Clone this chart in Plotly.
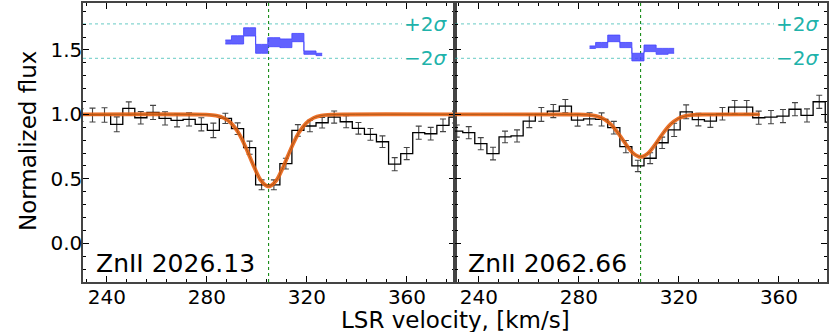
import plotly.graph_objects as go
from plotly.subplots import make_subplots

# ----------------------------------------------------------
# Data (velocity in km/s, normalised flux)
# ----------------------------------------------------------

vel_2026 = [229.5, 234.3, 239.1, 244.0, 248.8, 253.6, 258.5, 263.3, 268.1, 272.9,
            277.8, 282.6, 287.4, 292.3, 297.1, 301.9, 306.8, 311.6, 316.4, 321.2,
            326.1, 330.9, 335.7, 340.6, 345.4, 350.2, 355.1, 359.9, 364.7, 369.5,
            374.4, 379.2]
flux_2026 = [0.995, 0.995, 0.995, 0.923, 1.046, 0.974, 1.015, 0.969, 0.954, 0.961,
             0.923, 0.876, 0.969, 0.889, 0.742, 0.454, 0.454, 0.618, 0.876, 0.910,
             0.935, 0.979, 0.943, 0.892, 0.845, 0.788, 0.614, 0.696, 0.858, 0.850,
             0.915, 0.979]
err_2026 = [0.050, 0.054, 0.056, 0.058, 0.051, 0.049, 0.055, 0.051, 0.051, 0.051,
            0.051, 0.056, 0.040, 0.045, 0.051, 0.038, 0.038, 0.042, 0.045, 0.045,
            0.041, 0.047, 0.047, 0.045, 0.046, 0.045, 0.051, 0.047, 0.051, 0.049,
            0.049, 0.046]

vel_2062 = [226.3, 231.2, 236.0, 240.8, 245.7, 250.5, 255.3, 260.2, 265.0, 269.8,
            274.6, 279.5, 284.3, 289.1, 294.0, 298.8, 303.6, 308.5, 313.3, 318.1,
            322.9, 327.8, 332.6, 337.4, 342.3, 347.1, 351.9, 356.8, 361.6, 366.4,
            371.2, 376.1, 380.9]
flux_2062 = [0.870, 0.871, 0.858, 0.773, 0.696, 0.825, 0.833, 0.948, 1.000, 1.026,
             1.064, 0.956, 0.966, 0.961, 0.897, 0.750, 0.600, 0.660, 0.780, 0.880,
             1.020, 0.960, 0.948, 1.005, 1.057, 1.057, 0.974, 0.979, 0.987, 1.040,
             0.992, 1.098, 0.940]
err_2062 = [0.047, 0.047, 0.047, 0.047, 0.049, 0.045, 0.047, 0.051, 0.054, 0.051,
            0.051, 0.047, 0.047, 0.051, 0.049, 0.047, 0.044, 0.042, 0.044, 0.051,
            0.054, 0.049, 0.049, 0.049, 0.051, 0.051, 0.051, 0.051, 0.051, 0.051,
            0.051, 0.051, 0.050]

# fitted profiles
fit_vel_2026 = [230.5, 279.7, 283.7, 286.7, 289.7, 292.7, 295.7, 298.7, 301.7, 304.7,
                307.7, 310.7, 313.7, 316.7, 319.7, 322.7, 325.7, 329.7, 379.2]
fit_flux_2026 = [1.0, 0.998, 0.991, 0.973, 0.932, 0.855, 0.738, 0.600, 0.485, 0.440,
                 0.485, 0.600, 0.738, 0.855, 0.932, 0.973, 0.991, 0.998, 1.0]

fit_vel_2062 = [230.5, 279.7, 283.7, 286.7, 289.7, 292.7, 295.7, 298.7, 301.7, 304.7,
                307.7, 310.7, 313.7, 316.7, 319.7, 322.7, 325.7, 329.7, 352.3]
fit_flux_2062 = [1.0, 0.999, 0.996, 0.988, 0.967, 0.924, 0.855, 0.771, 0.699, 0.670,
                 0.699, 0.771, 0.855, 0.924, 0.967, 0.988, 0.996, 0.999, 1.0]

# residual bands (shifted to the residual strip)
res_vel_2026 = [287.4, 292.3, 297.1, 301.9, 306.8, 311.6, 316.4, 321.2, 326.1]
res_lo_2026 = [1.546, 1.546, 1.608, 1.474, 1.525, 1.518, 1.564, 1.466, 1.456]
res_hi_2026 = [1.577, 1.610, 1.672, 1.543, 1.595, 1.585, 1.628, 1.492, 1.474]

res_vel_2062 = [284.3, 289.1, 294.0, 298.8, 303.6, 308.5, 313.3, 318.1]
res_lo_2062 = [1.512, 1.518, 1.564, 1.518, 1.415, 1.487, 1.466, 1.474]
res_hi_2062 = [1.531, 1.558, 1.615, 1.558, 1.474, 1.538, 1.512, 1.512]

line_labels = ["ZnII 2026.13", "ZnII 2062.66"]

V_CENTER = 304.7
CONTINUUM = 1.0
RES_ZERO = 1.568
RES_2SIG = 0.134
SIG_LINE_END = 358.0
X_RANGE = [230.5, 379.2]
Y_RANGE = [-0.3, 1.864]

ORANGE = "#ec6212"
TEAL = "#20b2aa"
BLUE = "rgba(70,70,255,0.85)"

panels = [
    (vel_2026, flux_2026, err_2026, fit_vel_2026, fit_flux_2026,
     res_vel_2026, res_lo_2026, res_hi_2026),
    (vel_2062, flux_2062, err_2062, fit_vel_2062, fit_flux_2062,
     res_vel_2062, res_lo_2062, res_hi_2062),
]

fig = make_subplots(rows=1, cols=2, shared_yaxes=True, horizontal_spacing=0)

for col, (v, f, e, fv, ff, rv, rlo, rhi) in enumerate(panels, start=1):

    xref = "x" if col == 1 else f"x{col}"
    yref = "y" if col == 1 else f"y{col}"

    # reference lines
    fig.add_hline(y=CONTINUUM, line=dict(color="#333333", width=1.2),
                  layer="below", row=1, col=col)
    fig.add_hline(y=0.0, line=dict(color="black", width=1, dash="dot"),
                  layer="below", row=1, col=col)
    fig.add_hline(y=RES_ZERO, line=dict(color="rgba(32,178,170,0.8)", width=1.2),
                  layer="below", row=1, col=col)
    for s in (RES_2SIG, -RES_2SIG):
        fig.add_shape(type="line", xref=xref, yref=yref,
                      x0=X_RANGE[0], x1=SIG_LINE_END,
                      y0=RES_ZERO + s, y1=RES_ZERO + s, layer="below",
                      line=dict(color="rgba(32,178,170,0.55)", width=1.2, dash="dot"))
    fig.add_vline(x=V_CENTER, line=dict(color="green", width=1, dash="dot"),
                  layer="below", row=1, col=col)

    # data
    fig.add_trace(go.Scatter(
        x=v, y=f, mode="lines", line=dict(color="black", width=1.3, shape="hvh"),
        error_y=dict(type="data", array=e, color="#444444", thickness=1.1, width=3),
        hoverinfo="skip",
    ), row=1, col=col)

    # fit
    fig.add_trace(go.Scatter(
        x=fv, y=ff, mode="lines", opacity=0.9,
        line=dict(color=ORANGE, width=3.8, shape="spline", smoothing=0.8),
    ), row=1, col=col)
    fig.add_trace(go.Scatter(
        x=fv, y=ff, mode="lines",
        line=dict(color="rgba(150,80,20,0.7)", width=1, shape="spline", smoothing=0.8),
    ), row=1, col=col)

    # residuals
    fig.add_trace(go.Scatter(
        x=rv, y=rlo, mode="lines", line=dict(color=BLUE, width=1, shape="hvh"),
    ), row=1, col=col)
    fig.add_trace(go.Scatter(
        x=rv, y=rhi, mode="lines", fill="tonexty", fillcolor=BLUE,
        line=dict(color=BLUE, width=1, shape="hvh"),
    ), row=1, col=col)

    fig.add_annotation(x=X_RANGE[0] + 4.4, y=-0.155, xref=xref, yref=yref,
                       text=line_labels[col - 1], showarrow=False,
                       xanchor="left", yanchor="middle",
                       font=dict(size=25, color="black"))
    fig.add_annotation(x=376.8, y=RES_ZERO + RES_2SIG, xref=xref, yref=yref,
                       text="+2<i>σ</i>", showarrow=False,
                       xanchor="right", yanchor="middle",
                       font=dict(size=20, color=TEAL))
    fig.add_annotation(x=376.8, y=RES_ZERO - RES_2SIG, xref=xref, yref=yref,
                       text="−2<i>σ</i>", showarrow=False,
                       xanchor="right", yanchor="middle",
                       font=dict(size=20, color=TEAL))

axis_style = dict(
    showline=True, linecolor="#444444", linewidth=1.5, mirror="ticks",
    ticks="inside", ticklen=6, tickwidth=1, tickcolor="black",
    showgrid=False, zeroline=False,
)

fig.update_xaxes(
    range=X_RANGE, tick0=0, dtick=40, ticklabelstandoff=-4,
    minor=dict(ticks="inside", ticklen=3, tick0=0, dtick=8,
               tickcolor="black", showgrid=False),
    **axis_style,
)
fig.update_yaxes(
    range=Y_RANGE, tick0=0, dtick=0.5, tickformat=".1f", ticklabelstandoff=-5,
    minor=dict(ticks="inside", ticklen=3, tick0=0, dtick=0.1,
               tickcolor="black", showgrid=False),
    **axis_style,
)
fig.update_yaxes(showticklabels=False, row=1, col=2)

fig.add_annotation(x=0.5, y=-0.137, xref="paper", yref="paper",
                   text="LSR velocity, [km/s]", showarrow=False,
                   xanchor="center", yanchor="middle", font=dict(size=23))
fig.add_annotation(x=-0.074, y=0.505, xref="paper", yref="paper",
                   text="Normalized flux", showarrow=False, textangle=-90,
                   xanchor="center", yanchor="middle", font=dict(size=23))

fig.update_layout(
    width=830,
    height=332,
    margin=dict(l=83, r=1, t=1, b=50),
    plot_bgcolor="white",
    paper_bgcolor="white",
    showlegend=False,
    font=dict(family="DejaVu Sans", size=20, color="black"),
)

# the page gets the browser's default body margin; drop it so the
# figure fills the 830x332 window exactly
fig.write_html(
    "out.html",
    config={"displayModeBar": False},
    post_script="document.body.style.margin = '0';",
)
